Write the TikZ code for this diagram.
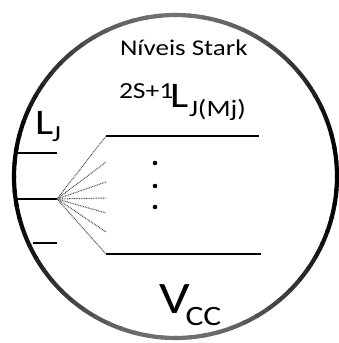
\documentclass[tikz,border=0pt]{standalone}
\usepackage{fontspec}
\setmainfont{Carlito}
\begin{document}
\begin{tikzpicture}[x=1pt,y=-1pt,
  txt/.style={anchor=base west,inner sep=0pt,outer sep=0pt,xscale=1.2,transform shape},
  level/.style={draw=black,line width=1.3pt},
  fan/.style={draw=black!70,line width=1pt,dash pattern=on 0.9pt off 0.8pt},
  dotmark/.style={circle,fill=black,inner sep=0pt,minimum size=4.6pt}]
\definecolor{ringgray}{RGB}{112,112,112}
\useasboundingbox (0,0) rectangle (338,343);
\fill[white] (0,0) rectangle (338,343);
% ring
\coordinate (C) at (175.5,176.5);
\foreach \a in {0,5,...,355}{
  \pgfmathsetmacro\p{100*(cos(\a+2.5))^2}
  \draw[line width=4.2pt,color=black!\p!ringgray] ([shift={(\a:161.5pt)}]C) arc (\a:\a+5.6:161.5pt);
}
% L_J levels
\coordinate (l1a) at (14,153); \coordinate (l1b) at (57,153);
\coordinate (l2a) at (14,199); \coordinate (l2b) at (57,199);
\coordinate (l3a) at (33,243); \coordinate (l3b) at (57,243);
\draw[level] (l1a) -- (l1b);
\draw[level] (l2a) -- (l2b);
\draw[level] (l3a) -- (l3b);
% Stark levels
\coordinate (s1a) at (106,136); \coordinate (s1b) at (259,136);
\coordinate (s2a) at (106,254); \coordinate (s2b) at (261,254);
\draw[level] (s1a) -- (s1b);
\draw[level] (s2a) -- (s2b);
% fan
\coordinate (f1) at (106,162);
\coordinate (f2) at (106,182);
\coordinate (f3) at (106,198);
\coordinate (f4) at (106,213);
\coordinate (f5) at (106,232);
\foreach \t in {s1a,f1,f2,f3,f4,f5,s2a}{
  \draw[fan] (l2b) -- (\t);
}
% vertical dots
\node[dotmark] (d1) at (155,163) {};
\node[dotmark] (d2) at (155,186) {};
\node[dotmark] (d3) at (155,207) {};
% texts
\node[txt,font=\fontsize{22.5}{26}\selectfont] (stark) at (120,55.7) {Níveis Stark};
\node[txt,font=\fontsize{23}{28}\selectfont] (sup) at (119,98) {2S+1};
\node[txt,font=\fontsize{36}{40}\selectfont] (L) at (170,107.7) {L};
\node[txt,font=\fontsize{23.5}{28}\selectfont] (sub) at (189,116) {J(Mj)};
\node[txt,font=\fontsize{36}{40}\selectfont] (LJ) at (35,134) {L};
\node[txt,font=\fontsize{23}{26}\selectfont] (J) at (52,141) {J};
\node[txt,font=\fontsize{45}{50}\selectfont] (V) at (159,313) {V};
\node[txt,font=\fontsize{28}{32}\selectfont] (CC) at (185.5,325) {CC};
\end{tikzpicture}
\end{document}
